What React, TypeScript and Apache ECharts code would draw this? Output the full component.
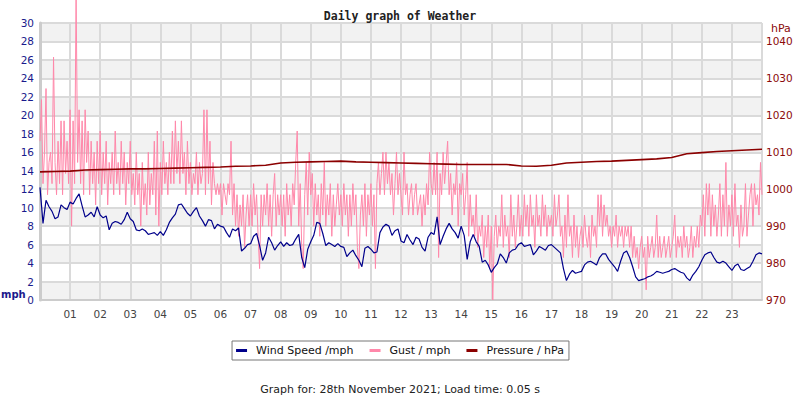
import React, { useEffect, useRef } from "react";
import * as echarts from "echarts";

// Hour tick labels shown under the plot (00 and 24 are not labelled)
const hourLabels = ["01","02","03","04","05","06","07","08","09","10","11","12","13","14","15","16","17","18","19","20","21","22","23"];

// Wind speed, mph, one reading every 0.1 h from 00:00
const WIND_STEP = 0.1;
const windSpeed = [
  12.2, 8.3, 10.8, 10.1, 9.6, 8.8, 9.0, 10.3, 10.0, 9.8,
  10.6, 10.4, 11.0, 11.5, 10.2, 9.0, 9.2, 9.5, 9.0, 10.1,
  9.2, 8.9, 9.1, 7.6, 8.3, 8.5, 8.4, 8.2, 8.7, 9.5,
  8.8, 8.5, 7.6, 7.5, 7.7, 7.5, 7.1, 7.2, 7.3, 7.0,
  7.4, 7.0, 7.6, 8.4, 8.9, 9.3, 10.3, 10.4, 9.9, 9.4,
  9.1, 9.6, 10.0, 9.1, 8.6, 8.0, 8.7, 8.6, 7.7, 8.2,
  8.0, 7.9, 7.3, 6.8, 7.7, 7.5, 7.8, 5.3, 5.6, 6.0,
  6.1, 6.9, 7.2, 5.9, 4.3, 5.1, 6.8, 6.2, 5.4, 5.9,
  6.3, 5.8, 6.2, 5.9, 6.0, 6.6, 7.1, 4.6, 3.5, 5.5,
  6.3, 7.0, 8.4, 8.3, 7.2, 5.9, 6.2, 6.0, 5.8, 6.1,
  5.8, 5.7, 4.7, 5.1, 5.4, 4.8, 4.3, 3.6, 5.6, 5.8,
  5.5, 5.1, 5.2, 7.3, 7.9, 8.2, 8.0, 7.0, 7.5, 7.7,
  6.4, 6.2, 7.1, 6.5, 6.0, 6.8, 6.6, 5.7, 5.3, 6.8,
  7.3, 7.1, 9.0, 6.0, 6.9, 7.7, 8.3, 7.7, 7.3, 6.7,
  8.0, 7.0, 4.4, 6.3, 7.1, 6.3, 5.8, 4.1, 4.3, 3.8,
  3.0, 3.5, 3.9, 5.0, 4.6, 4.0, 5.1, 5.4, 5.5, 6.0,
  6.2, 5.8, 5.9, 6.0, 4.9, 5.3, 5.8, 5.6, 5.4, 5.9,
  6.0, 5.7, 5.4, 5.1, 3.4, 2.1, 2.8, 3.2, 2.9, 3.0,
  3.1, 3.8, 4.1, 4.2, 4.0, 3.8, 4.6, 5.0, 5.0, 4.4,
  4.0, 3.6, 3.1, 4.2, 5.1, 5.3, 4.6, 3.6, 2.5, 2.1,
  2.2, 2.3, 2.5, 2.6, 2.8, 3.1, 3.0, 2.9, 3.0, 3.1,
  3.3, 3.4, 3.2, 3.0, 2.9, 2.4, 2.1, 2.7, 3.1, 3.6,
  4.3, 4.9, 5.1, 5.2, 4.6, 4.1, 4.0, 4.2, 4.0, 3.6,
  3.2, 3.7, 3.9, 3.3, 3.2, 3.4, 3.6, 4.2, 4.9, 5.1,
  5.0,
];

// Gust, mph, one reading every 0.05 h from 00:00
const GUST_STEP = 0.05;
const gust = [
  17.2, 21.7, 12.6, 16.0, 22.9, 11.4, 14.9, 16.0, 12.6, 26.3, 14.9, 11.4, 17.2, 12.6, 19.4, 11.4, 19.4, 13.7, 17.2, 12.6,
  20.6, 8.0, 19.4, 12.6, 33.2, 14.9, 20.6, 12.6, 19.4, 11.4, 20.6, 14.9, 18.3, 11.4, 17.2, 12.6, 16.0, 10.3, 17.2, 12.6,
  18.3, 11.4, 16.0, 12.6, 17.2, 10.3, 14.9, 12.6, 16.0, 11.4, 18.3, 12.6, 14.9, 11.4, 17.2, 12.6, 16.0, 10.3, 14.9, 12.6,
  17.2, 11.4, 13.7, 10.3, 16.0, 11.4, 13.7, 8.0, 14.9, 10.3, 12.6, 9.2, 16.0, 10.3, 13.7, 11.4, 17.2, 9.2, 18.3, 8.0,
  14.9, 11.4, 17.2, 12.6, 14.9, 11.4, 16.0, 12.6, 18.3, 12.6, 19.4, 13.7, 17.2, 12.6, 19.4, 13.7, 16.0, 11.4, 17.2, 12.6,
  14.9, 11.4, 13.7, 12.6, 16.0, 11.4, 14.9, 12.6, 13.7, 20.6, 11.4, 20.6, 12.6, 17.2, 10.3, 14.9, 12.6, 11.4, 12.6, 11.4,
  12.6, 9.2, 12.6, 11.4, 10.3, 12.6, 11.4, 17.2, 9.2, 12.6, 8.0, 11.4, 6.9, 10.3, 8.0, 11.4, 5.7, 9.2, 11.4, 8.0,
  11.4, 8.0, 12.6, 9.2, 11.4, 6.9, 3.4, 11.4, 8.0, 11.4, 9.2, 12.6, 8.0, 11.4, 6.9, 11.4, 13.7, 8.0, 11.4, 9.2,
  11.4, 8.0, 11.4, 6.9, 12.6, 9.2, 11.4, 8.0, 12.6, 10.3, 14.9, 18.3, 8.0, 12.6, 5.7, 3.4, 11.4, 14.9, 9.2, 16.0,
  11.4, 13.7, 8.0, 12.6, 9.2, 11.4, 6.9, 12.6, 9.2, 14.9, 8.0, 11.4, 9.2, 12.6, 6.9, 11.4, 8.0, 10.3, 12.6, 9.2,
  11.4, 8.0, 12.6, 9.2, 11.4, 6.9, 11.4, 8.0, 12.6, 9.2, 11.4, 5.7, 3.4, 9.2, 11.4, 8.0, 12.6, 6.9, 11.4, 9.2,
  12.6, 8.0, 11.4, 3.4, 12.6, 14.9, 11.4, 13.7, 16.0, 11.4, 16.0, 12.6, 14.9, 11.4, 13.7, 9.2, 12.6, 16.0, 11.4, 13.7,
  11.4, 9.2, 16.0, 11.4, 12.6, 9.2, 11.4, 12.6, 9.2, 11.4, 12.6, 9.2, 10.3, 11.4, 8.0, 11.4, 9.2, 12.6, 10.3, 16.0,
  12.6, 11.4, 14.9, 11.4, 16.0, 4.6, 13.7, 11.4, 16.0, 12.6, 14.9, 17.2, 11.4, 13.7, 9.2, 12.6, 11.4, 14.9, 8.0, 12.6,
  11.4, 13.7, 9.2, 11.4, 14.9, 6.9, 11.4, 8.0, 9.2, 6.9, 11.4, 5.7, 8.0, 6.9, 9.2, 4.6, 8.0, 5.7, 9.2, 3.4,
  8.0, 0.0, 6.9, 9.2, 5.7, 8.0, 6.9, 11.4, 5.7, 9.2, 6.9, 8.0, 4.6, 11.4, 6.9, 9.2, 5.7, 8.0, 11.4, 6.9,
  9.2, 6.9, 11.4, 8.0, 10.3, 6.9, 11.4, 8.0, 9.2, 5.7, 11.4, 8.0, 9.2, 6.9, 11.4, 8.0, 10.3, 6.9, 9.2, 8.0,
  9.2, 6.9, 11.4, 8.0, 9.2, 11.4, 6.9, 8.0, 4.6, 9.2, 5.7, 11.4, 6.9, 8.0, 4.6, 9.2, 5.7, 8.0, 4.6, 6.9,
  8.0, 5.7, 9.2, 6.9, 5.7, 8.0, 4.6, 9.2, 6.9, 8.0, 5.7, 11.4, 8.0, 11.4, 6.9, 10.3, 8.0, 9.2, 6.9, 8.0,
  5.7, 8.0, 6.9, 9.2, 5.7, 8.0, 6.9, 8.0, 5.7, 8.0, 6.9, 8.0, 5.7, 8.0, 4.6, 6.9, 4.6, 5.7, 3.4, 5.7,
  6.9, 4.6, 5.7, 1.1, 6.9, 4.6, 5.7, 6.9, 4.6, 5.7, 9.2, 4.6, 6.9, 4.6, 5.7, 6.9, 4.6, 5.7, 6.9, 4.6,
  5.7, 6.9, 9.2, 4.6, 6.9, 5.7, 6.9, 4.6, 8.0, 5.7, 6.9, 4.6, 5.7, 8.0, 4.6, 6.9, 5.7, 8.0, 5.7, 9.2,
  8.0, 11.4, 6.9, 12.6, 9.2, 12.6, 6.9, 11.4, 8.0, 10.3, 6.9, 9.2, 12.6, 6.9, 11.4, 8.0, 14.9, 6.9, 10.3, 8.0,
  11.4, 6.9, 12.6, 8.0, 9.2, 5.7, 10.3, 6.9, 8.0, 12.6, 6.9, 9.2, 11.4, 12.6, 8.0, 12.6, 10.3, 11.4, 9.2, 14.9,
  11.4,
];

// Pressure, hPa, one reading every 0.5 h from 00:00
const PRESSURE_STEP = 0.5;
const pressure = [
  1004.7, 1004.8, 1004.9, 1005.2, 1005.3, 1005.4, 1005.5, 1005.5, 1005.6, 1005.7,
  1005.8, 1005.9, 1006.0, 1006.2, 1006.3, 1006.5, 1007.1, 1007.3, 1007.4, 1007.5,
  1007.6, 1007.4, 1007.3, 1007.2, 1007.1, 1007.0, 1006.9, 1006.8, 1006.7, 1006.7,
  1006.7, 1006.7, 1006.3, 1006.2, 1006.5, 1007.1, 1007.3, 1007.5, 1007.6, 1007.8,
  1008.0, 1008.2, 1008.6, 1009.6, 1009.9, 1010.2, 1010.4, 1010.6, 1010.8,
];

const toPairs = (vals: number[], step: number) =>
  vals.map((v, i) => [Number((i * step).toFixed(3)), v]);

const FONT = "DejaVu Sans";
const NAVY = "#1a1a8c";
const DARKRED = "#8b0a0a";
const GRID = "#dadada";

export default function App() {
  const ref = useRef<HTMLDivElement>(null);

  useEffect(() => {
    if (!ref.current) return;
    const chart = echarts.init(ref.current, undefined, { renderer: "svg" });
    chart.setOption({
      animation: false,
      backgroundColor: "#ffffff",
      textStyle: { fontFamily: FONT },
      title: [
        {
          text: "Daily graph of Weather",
          left: "center",
          top: 5,
          textStyle: { fontFamily: "DejaVu Sans Mono", fontWeight: "bold", fontSize: 11.5, color: "#222" },
        },
        {
          text: "Graph for: 28th November 2021; Load time: 0.05 s",
          left: "center",
          top: 379,
          textStyle: { fontFamily: FONT, fontWeight: "normal", fontSize: 11, color: "#222" },
        },
      ],
      legend: {
        data: ["Wind Speed /mph", "Gust / mph", "Pressure / hPa"],
        left: "center",
        top: 341,
        icon: "rect",
        itemWidth: 11,
        itemHeight: 3,
        itemGap: 16,
        borderColor: "#777",
        borderWidth: 1,
        padding: [4, 5, 4, 4],
        textStyle: { fontFamily: FONT, fontSize: 11, color: "#111", padding: [0, 0, 0, 4] },
      },
      grid: { left: 40, right: 38, top: 23, bottom: 100 },
      xAxis: {
        type: "value",
        min: 0,
        max: 24,
        interval: 1,
        axisLine: { show: true, lineStyle: { color: "#cccccc", width: 2 } },
        axisTick: { show: false },
        axisLabel: {
          margin: 8,
          color: "#444",
          fontSize: 10.5,
          fontFamily: FONT,
          formatter: (v: number) => (v >= 1 && v <= 23 ? hourLabels[v - 1] : ""),
        },
        splitLine: { show: true, lineStyle: { color: GRID, width: 2 } },
      },
      yAxis: [
        {
          type: "value",
          min: 0,
          max: 30,
          interval: 2,
          position: "left",
          axisLine: { show: true, lineStyle: { color: "#cccccc", width: 3 } },
          axisTick: { show: false },
          axisLabel: { margin: 6, color: NAVY, fontSize: 10.5, fontFamily: FONT },
          splitLine: { show: true, lineStyle: { color: GRID, width: 2 } },
          splitArea: { show: true, areaStyle: { color: ["#f2f2f2", "#ffffff"] } },
        },
        {
          type: "value",
          min: 970,
          max: 1045,
          interval: 10,
          position: "right",
          axisLine: { show: false },
          axisTick: { show: false },
          axisLabel: {
            margin: 4,
            color: DARKRED,
            fontSize: 10.5,
            fontFamily: FONT,
            showMaxLabel: false,
            formatter: (v: number) => String(v),
          },
          splitLine: { show: false },
        },
      ],
      graphic: [
        {
          type: "text",
          left: 1,
          top: 289,
          style: { text: "mph", fill: NAVY, font: `bold 10px ${FONT}` },
        },
        {
          type: "text",
          left: 771,
          top: 23,
          style: { text: "hPa", fill: DARKRED, font: `11px ${FONT}` },
        },
      ],
      series: [
        {
          name: "Gust / mph",
          type: "line",
          yAxisIndex: 0,
          data: toPairs(gust, GUST_STEP),
          symbol: "none",
          clip: false,
          lineStyle: { color: "#ff88aa", width: 1 },
          itemStyle: { color: "#ff88aa" },
          z: 2,
        },
        {
          name: "Pressure / hPa",
          type: "line",
          yAxisIndex: 1,
          data: toPairs(pressure, PRESSURE_STEP),
          symbol: "none",
          lineStyle: { color: "#8b0000", width: 1.6 },
          itemStyle: { color: "#8b0000" },
          z: 3,
        },
        {
          name: "Wind Speed /mph",
          type: "line",
          yAxisIndex: 0,
          data: toPairs(windSpeed, WIND_STEP),
          symbol: "none",
          lineStyle: { color: "#00008b", width: 1.2 },
          itemStyle: { color: "#00008b" },
          z: 4,
        },
      ],
    });
    return () => chart.dispose();
  }, []);

  return (
    <div
      ref={ref}
      style={{ position: "fixed", left: 0, top: 0, width: 800, height: 400, background: "#fff" }}
    />
  );
}
